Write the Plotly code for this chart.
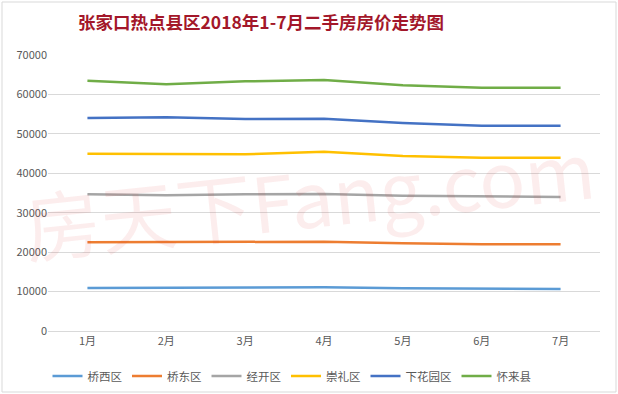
import plotly.graph_objects as go

months = ["1月", "2月", "3月", "4月", "5月", "6月", "7月"]
qiaoxi = [10900, 10900, 11080, 11080, 10830, 10650, 10650]
qiaodong = [22490, 22490, 22650, 22650, 22240, 21990, 21990]
jingkai = [34670, 34410, 34670, 34750, 34330, 34070, 33990]
chongli = [44970, 44970, 44800, 45480, 44380, 43950, 43950]
xiahuayuan = [54020, 54190, 53770, 53850, 52750, 52070, 52070]
huailai = [63480, 62560, 63320, 63650, 62300, 61710, 61710]

series = [
    ("桥西区", qiaoxi, "#5B9BD5"),
    ("桥东区", qiaodong, "#ED7D31"),
    ("经开区", jingkai, "#A5A5A5"),
    ("崇礼区", chongli, "#FFC000"),
    ("下花园区", xiahuayuan, "#4472C4"),
    ("怀来县", huailai, "#70AD47"),
]

FONT = "Noto Sans CJK SC"

fig = go.Figure()
for name, vals, color in series:
    fig.add_trace(go.Scatter(x=months, y=vals, name=name, mode="lines",
                             line=dict(color=color, width=2.5)))

fig.add_annotation(text="房天下Fang.com", xref="paper", yref="paper",
                   x=(309 - 48) / 552, y=(331 - 195) / 276, showarrow=False,
                   textangle=-6,
                   font=dict(family=FONT, size=76, color="rgba(225,60,60,0.09)"))

fig.update_layout(
    width=618, height=394,
    margin=dict(l=48, r=18, t=55, b=63, autoexpand=False),
    paper_bgcolor="white", plot_bgcolor="white",
    font=dict(family=FONT, size=11, color="#595959"),
    title=dict(text="<b>张家口热点县区2018年1-7月二手房房价走势图</b>",
               x=261 / 618, xanchor="center", xref="container",
               y=1 - 23 / 394, yanchor="middle", yref="container",
               font=dict(family=FONT, size=17.5, color="#A3172A")),
    xaxis=dict(showgrid=False, showline=True, linecolor="#D9D9D9", linewidth=1,
               ticks="", tickfont=dict(size=11, color="#595959"),
               range=[-0.5, 6.5]),
    yaxis=dict(range=[0, 70000], dtick=10000, showgrid=True,
               gridcolor="#D9D9D9", gridwidth=1, zeroline=False,
               showline=False, ticks="", tickformat="d",
               tickfont=dict(size=11, color="#595959")),
    legend=dict(orientation="h", x=(292 - 48) / 552, xanchor="center",
                y=-(376 - 331) / 276, yanchor="middle",
                font=dict(size=11.5, color="#595959"),
                itemwidth=30, tracegroupgap=0),
    shapes=[dict(type="rect", xref="paper", yref="paper",
                 x0=-46 / 552, x1=1 + 16 / 552, y0=-61 / 276, y1=1 + 53 / 276,
                 line=dict(color="#D9D9D9", width=1), layer="below")],
)

fig.write_html("out.html", config={"displayModeBar": False},
               post_script="document.body.style.margin='0';document.body.style.padding='0';")
